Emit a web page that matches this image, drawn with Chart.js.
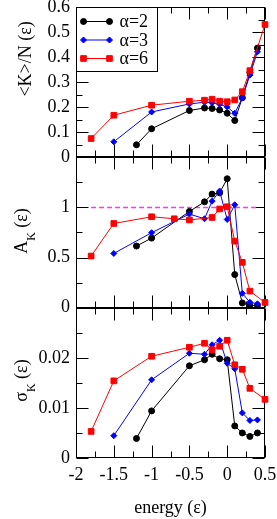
<!DOCTYPE html>
<html>
<head>
<meta charset="utf-8">
<script src="https://cdn.jsdelivr.net/npm/chart.js@4.4.0/dist/chart.umd.min.js"></script>
<style>
  html, body { margin: 0; padding: 0; background: #fff; }
  #wrap { position: relative; width: 277px; height: 519px; }
</style>
</head>
<body>
<div id="wrap"><canvas id="chart" width="277" height="519"></canvas></div>
<script>
const FONT = "'Liberation Serif', 'Times New Roman', serif";

// energies of each series (the red set of the A_K panel has a point at -0.7 instead of -0.3)
const energy2 = [-1.2, -1, -0.5, -0.3, -0.2, -0.1, 0, 0.1, 0.2, 0.3, 0.4];
const energy3 = [-1.5, -1, -0.5, -0.3, -0.2, -0.1, 0, 0.1, 0.2, 0.3, 0.4];
const energy6 = [-1.8, -1.5, -1, -0.5, -0.3, -0.2, -0.1, 0, 0.1, 0.2, 0.3, 0.5];
const energy6A = [-1.8, -1.5, -1, -0.7, -0.5, -0.2, -0.1, 0, 0.1, 0.2, 0.3, 0.5];

// <K>/N
const kin2 = [0.05, 0.114, 0.187, 0.197, 0.195, 0.189, 0.176, 0.147, 0.238, 0.338, 0.436];
const kin3 = [0.062, 0.181, 0.213, 0.22, 0.218, 0.212, 0.201, 0.176, 0.237, 0.328, 0.421];
const kin6 = [0.075, 0.168, 0.208, 0.224, 0.228, 0.232, 0.224, 0.222, 0.229, 0.262, 0.346, 0.53];

// A_K
const amp2 = [0.615, 0.694, 0.96, 1.056, 1.133, 1.146, 1.286, 0.33, 0.047, 0.022, 0.022];
const amp3 = [0.541, 0.748, 0.934, 0.887, 1.063, 1.163, 0.88, 1.027, 0.143, 0.054, 0.038];
const amp6 = [0.515, 0.84, 0.907, 0.887, 0.875, 0.9, 0.985, 1.007, 0.664, 0.452, 0.165, 0.052];

// sigma_K
const sig2 = [0.0039, 0.0094, 0.0184, 0.0196, 0.0207, 0.0198, 0.0196, 0.0064, 0.005, 0.0043, 0.005];
const sig3 = [0.00445, 0.0156, 0.0209, 0.0207, 0.0226, 0.0235, 0.0189, 0.0178, 0.009, 0.0075, 0.0076];
const sig6 = [0.0053, 0.0154, 0.0203, 0.0221, 0.0229, 0.0216, 0.0223, 0.0235, 0.0186, 0.0177, 0.0139, 0.0117];

// A_K = 1 reference
const refX = [-1.8, 0.4];
const refY = [1, 1];

const legendLabels = ['α=2', 'α=3', 'α=6'];

const pts = (xs, ys) => xs.map((x, i) => ({ x: x, y: ys[i] }));

const look = {
  'α=2': { color: '#000000', pointStyle: 'circle', pointRadius: 3 },
  'α=3': { color: '#0000ff', pointStyle: 'rectRot', pointRadius: 3 },
  'α=6': { color: '#ff0000', pointStyle: 'rect', pointRadius: 4 }
};

function series(label, xs, ys, axis) {
  const s = look[label];
  return {
    label: label,
    data: pts(xs, ys),
    yAxisID: axis,
    showLine: true,
    borderColor: s.color,
    backgroundColor: s.color,
    borderWidth: 1,
    pointStyle: s.pointStyle,
    pointRadius: s.pointRadius,
    pointBorderWidth: 1,
    pointHoverRadius: s.pointRadius,
    clip: false
  };
}

// first dataset is painted last (on top)
const datasets = [
  series('α=6', energy6, kin6, 'yK'),
  series('α=3', energy3, kin3, 'yK'),
  series('α=2', energy2, kin2, 'yK'),
  series('α=6', energy6A, amp6, 'yA'),
  series('α=3', energy3, amp3, 'yA'),
  series('α=2', energy2, amp2, 'yA'),
  series('α=6', energy6, sig6, 'yS'),
  series('α=3', energy3, sig3, 'yS'),
  series('α=2', energy2, sig2, 'yS'),
  {
    label: 'ref',
    data: pts(refX, refY),
    yAxisID: 'yA',
    showLine: true,
    borderColor: '#ff33ff',
    borderWidth: 1.5,
    borderDash: [5, 3],
    pointRadius: 0,
    clip: false
  }
];

function yAxis(min, max, step, weight, decimals, hideTop) {
  return {
    type: 'linear',
    position: 'left',
    stack: 'panels',
    stackWeight: 1,
    weight: weight,
    min: min,
    max: max,
    grid: { display: false, drawTicks: false },
    border: { display: false },
    ticks: {
      stepSize: step,
      autoSkip: false,
      padding: 6,
      color: '#000',
      font: { family: FONT, size: 18 },
      callback: v => (hideTop && Math.abs(v - max) < step / 100) ? '' :
        (Math.abs(v) < 1e-12 ? '0' : String(+v.toFixed(decimals)))
    },
    afterFit: s => { s.width = 76; s.paddingTop = 0; s.paddingBottom = 0; }
  };
}

const MAJOR = 12, MINOR = 6;

function midpoints(vals) {
  const out = [];
  for (let i = 1; i < vals.length; i++) out.push((vals[i - 1] + vals[i]) / 2);
  return out;
}

// box and inward ticks on all four sides of each panel
const framePlugin = {
  id: 'frame',
  beforeDatasetsDraw(chart) {
    const ctx = chart.ctx;
    const x = chart.scales.x;
    const xMaj = x.ticks.map(t => t.value);
    const xMin = midpoints(xMaj);
    const L = Math.round(x.left) + 0.5, R = Math.round(x.right) - 0.5;
    ctx.save();
    ctx.strokeStyle = '#000';
    ctx.lineWidth = 1;
    ['yK', 'yA', 'yS'].forEach(id => {
      const y = chart.scales[id];
      const T = Math.round(y.top) + 0.5, B = Math.round(y.bottom) - 0.5;
      ctx.strokeRect(L, T, R - L, B - T);
      const yMaj = y.ticks.map(t => t.value);
      const yMin = midpoints(yMaj);
      ctx.beginPath();
      const xt = (v, len) => {
        const px = Math.round(x.getPixelForValue(v)) + 0.5;
        ctx.moveTo(px, B); ctx.lineTo(px, B - len);
        ctx.moveTo(px, T); ctx.lineTo(px, T + len);
      };
      const yt = (v, len) => {
        const py = Math.round(y.getPixelForValue(v)) + 0.5;
        ctx.moveTo(L, py); ctx.lineTo(L + len, py);
        ctx.moveTo(R, py); ctx.lineTo(R - len, py);
      };
      xMaj.forEach(v => xt(v, MAJOR));
      xMin.forEach(v => xt(v, MINOR));
      yMaj.forEach(v => yt(v, MAJOR));
      yMin.forEach(v => yt(v, MINOR));
      ctx.stroke();
    });
    ctx.restore();
  }
};

// vertical axis title; parts are [text, isSubscript]
function drawRotated(ctx, parts, baseX, cy) {
  const main = '18px ' + FONT, sub = '12px ' + FONT;
  ctx.save();
  ctx.translate(baseX, cy);
  ctx.rotate(-Math.PI / 2);
  let w = 0;
  parts.forEach(p => { ctx.font = p[1] ? sub : main; w += ctx.measureText(p[0]).width; });
  let pos = -w / 2;
  ctx.textAlign = 'left';
  ctx.textBaseline = 'alphabetic';
  ctx.fillStyle = '#000';
  parts.forEach(p => {
    ctx.font = p[1] ? sub : main;
    ctx.fillText(p[0], pos, p[1] ? 8.5 : 0);
    pos += ctx.measureText(p[0]).width;
  });
  ctx.restore();
}

const labelPlugin = {
  id: 'labels',
  afterDatasetsDraw(chart) {
    const ctx = chart.ctx;
    const area = chart.chartArea;

    // legend box in the upper left corner
    const bx = Math.round(area.left) + 0.5, by = Math.round(area.top) + 0.5;
    ctx.save();
    ctx.fillStyle = '#fff';
    ctx.fillRect(bx, by, 81, 64);
    ctx.strokeStyle = '#000';
    ctx.lineWidth = 1;
    ctx.strokeRect(bx, by, 81, 64);
    const rows = [14, 32.5, 51];
    legendLabels.forEach((lab, i) => {
      const ds = chart.data.datasets.find(d => d.label === lab);
      const yy = by + rows[i];
      ctx.strokeStyle = ds.borderColor;
      ctx.fillStyle = ds.backgroundColor;
      ctx.beginPath();
      ctx.moveTo(bx + 7, yy);
      ctx.lineTo(bx + 33, yy);
      ctx.stroke();
      [bx + 7, bx + 33].forEach(px => {
        Chart.helpers.drawPoint(ctx, { pointStyle: ds.pointStyle, radius: ds.pointRadius, rotation: 0, borderWidth: 1 }, px, yy);
      });
      ctx.fillStyle = '#000';
      ctx.font = '18px ' + FONT;
      ctx.textAlign = 'left';
      ctx.textBaseline = 'middle';
      ctx.fillText(lab, bx + 43, yy + 1);
    });
    ctx.restore();

    const sK = chart.scales.yK, sA = chart.scales.yA, sS = chart.scales.yS;
    drawRotated(ctx, [['<K>/N (ε)', false]], 31, sK.top + 0.345 * sK.height);
    drawRotated(ctx, [['A', false], ['K', true], [' (ε)', false]], 26.5, sA.top + 0.49 * sA.height);
    drawRotated(ctx, [['σ', false], ['K', true], [' (ε)', false]], 26.5, sS.top + 0.485 * sS.height);
  }
};

new Chart(document.getElementById('chart'), {
  type: 'scatter',
  data: { datasets: datasets },
  options: {
    responsive: false,
    animation: false,
    layout: { padding: { top: 7, right: 12, left: 0, bottom: 0 } },
    plugins: { legend: { display: false }, tooltip: { enabled: false } },
    scales: {
      x: {
        type: 'linear',
        min: -2,
        max: 0.5,
        grid: { display: false, drawTicks: false },
        border: { display: false },
        ticks: {
          stepSize: 0.5,
          autoSkip: false,
          maxRotation: 0,
          padding: 6,
          color: '#000',
          font: { family: FONT, size: 18 },
          callback: v => String(+v.toFixed(1))
        },
        title: {
          display: true,
          text: 'energy (ε)',
          color: '#000',
          font: { family: FONT, size: 18 },
          padding: { top: 0, bottom: 0 }
        },
        afterFit: s => { s.height = 61; s.paddingLeft = 0; s.paddingRight = 0; }
      },
      yK: yAxis(0, 0.6, 0.1, 3, 1, false),
      yA: yAxis(0, 1.5, 0.5, 2, 1, true),
      yS: yAxis(0, 0.03, 0.01, 1, 2, true)
    }
  },
  plugins: [framePlugin, labelPlugin]
});
</script>
</body>
</html>
